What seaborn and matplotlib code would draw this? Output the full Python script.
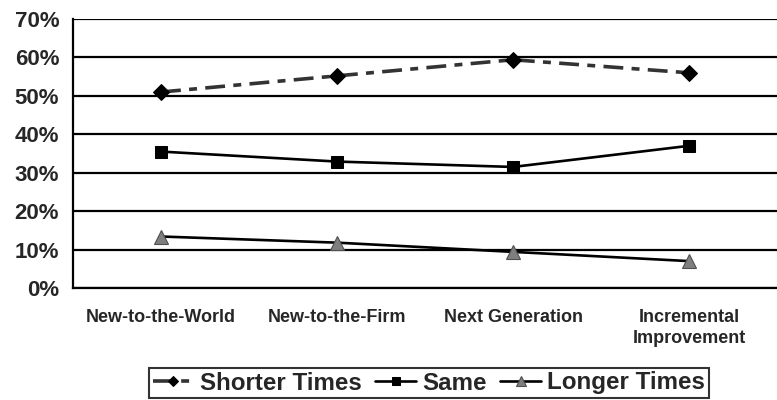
import numpy as np
import pandas as pd
import matplotlib
matplotlib.use('agg')
import matplotlib.pyplot as plt
import seaborn as sns
from matplotlib.ticker import FixedLocator, PercentFormatter

sns.set_style('white')
plt.rcParams['font.family'] = ['Liberation Sans', 'DejaVu Sans']
plt.rcParams['font.weight'] = 'bold'

categories = ['New-to-the-World', 'New-to-the-Firm', 'Next Generation',
              'Incremental\nImprovement']
shorter = [51.0, 55.2, 59.4, 56.0]
same = [35.5, 32.9, 31.5, 37.0]
longer = [13.4, 11.8, 9.4, 7.0]

pos = np.arange(len(categories))

fig = plt.figure(figsize=(7.77, 4.0), dpi=100)
ax = fig.add_axes([0.094, 0.28, 0.906, 0.6725])

# shorter times: dash-dot grey line with black diamonds
sns.lineplot(x=pos, y=shorter, ax=ax, color='#333333', lw=2.6,
             marker='D', markersize=8, markerfacecolor='black',
             markeredgecolor='black', label='Shorter Times')
ax.lines[-1].set_dashes([5.5, 2.3, 2.2, 2.3])
sns.lineplot(x=pos, y=same, ax=ax, color='black', lw=1.9,
             marker='s', markersize=8.5, markerfacecolor='black',
             markeredgecolor='black', label='Same')
sns.lineplot(x=pos, y=longer, ax=ax, color='black', lw=1.9,
             marker='^', markersize=10, markerfacecolor='#7f7f7f',
             markeredgecolor='#505050', markeredgewidth=0.8,
             label='Longer Times')

ax.set_xlim(-0.5, 3.5)
ax.set_ylim(0, 70)
ax.set_yticks(np.arange(0, 71, 10))
ax.yaxis.set_major_formatter(PercentFormatter(decimals=0))
ax.set_xticks(pos)
ax.set_xticklabels(categories, fontsize=13, fontweight='bold',
                   linespacing=1.3)
ax.xaxis.set_minor_locator(FixedLocator([0.5, 1.5, 2.5]))
ax.tick_params(axis='x', which='major', length=0, pad=15)
ax.tick_params(axis='x', which='minor', length=6, width=1.5, color='black')
ax.tick_params(axis='y', length=7, width=1.5, color='black',
               labelsize=16, pad=3)
for lab in ax.get_yticklabels():
    lab.set_fontweight('bold')

ax.grid(axis='y', color='black', lw=1.6)
ax.set_axisbelow(True)
for s in ['top', 'right']:
    ax.spines[s].set_visible(False)
for s in ['left', 'bottom']:
    ax.spines[s].set_color('black')
    ax.spines[s].set_linewidth(1.6)

leg = ax.legend(loc='center', bbox_to_anchor=(429 / 777, 17 / 400),
                bbox_transform=fig.transFigure, ncol=3, frameon=True,
                fancybox=False, edgecolor='black', handlelength=1.7,
                handletextpad=0.25, columnspacing=0.55, borderpad=0.15,
                borderaxespad=0, markerscale=0.65,
                prop={'size': 17.4, 'weight': 'bold'})
leg.get_frame().set_linewidth(1.5)

fig.savefig('out.png', dpi=100)
